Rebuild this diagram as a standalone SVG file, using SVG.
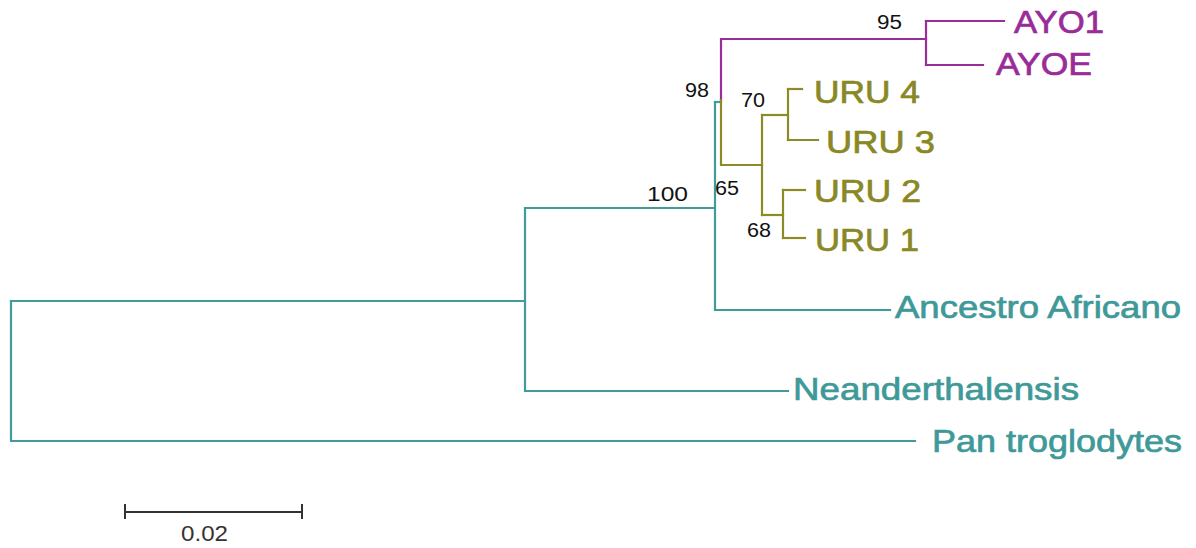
<svg xmlns="http://www.w3.org/2000/svg" width="1196" height="548" viewBox="0 0 1196 548">
  <style>
    .br { fill: none; stroke-width: 2.2; stroke-linecap: square; stroke-linejoin: miter; }
    .teal { stroke: #419b9b; }
    .purple { stroke: #9a2d9a; }
    .olive { stroke: #8d8b28; }
    .lab { font-family: "Liberation Sans", Arial, sans-serif; font-size: 32px; stroke-width: 0.7; }
    .lab.teal { fill: #3f9999; stroke: #3f9999; }
    .lab.purple { fill: #992c99; stroke: #992c99; }
    .lab.olive { fill: #8a8826; stroke: #8a8826; }
    .bs { font-family: "Liberation Sans", Arial, sans-serif; font-size: 20px; fill: #111; }
    .scale { stroke: #333; stroke-width: 2; fill: none; }
  </style>
  <rect width="1196" height="548" fill="#ffffff"/>

  <!-- branches -->
  <g id="connectors">
    <!-- outgroup and deep splits -->
    <path class="br teal" d="M11,301 V441 H915"/>
    <path class="br teal" d="M11,301 H525"/>
    <path class="br teal" d="M525,208 V391 H788"/>
    <path class="br teal" d="M525,208 H715"/>
    <path class="br teal" d="M715,102 V310 H890"/>
    <path class="br teal" d="M715,102 H721"/>
    <!-- AYO clade -->
    <path class="br purple" d="M721,100 V39 H926"/>
    <path class="br purple" d="M926,21 V65"/>
    <path class="br purple" d="M926,21 H1004"/>
    <path class="br purple" d="M926,65 H983"/>
    <!-- URU clade -->
    <path class="br olive" d="M721,100 V165 H762"/>
    <path class="br olive" d="M762,115 V215"/>
    <path class="br olive" d="M762,115 H788"/>
    <path class="br olive" d="M788,89 V140"/>
    <path class="br olive" d="M788,89 H802"/>
    <path class="br olive" d="M788,140 H818"/>
    <path class="br olive" d="M762,215 H783"/>
    <path class="br olive" d="M783,190 V238"/>
    <path class="br olive" d="M783,190 H805"/>
    <path class="br olive" d="M783,238 H805"/>
  </g>

  <!-- taxa -->
  <g id="AYO1"><text class="lab purple" x="1014" y="33" textLength="90" lengthAdjust="spacingAndGlyphs">AYO1</text></g>
  <g id="AYOE"><text class="lab purple" x="996" y="75" textLength="96" lengthAdjust="spacingAndGlyphs">AYOE</text></g>
  <g id="URU4"><text class="lab olive" x="814" y="103" textLength="106" lengthAdjust="spacingAndGlyphs">URU 4</text></g>
  <g id="URU3"><text class="lab olive" x="826" y="153" textLength="109" lengthAdjust="spacingAndGlyphs">URU 3</text></g>
  <g id="URU2"><text class="lab olive" x="814" y="202" textLength="107" lengthAdjust="spacingAndGlyphs">URU 2</text></g>
  <g id="URU1"><text class="lab olive" x="815" y="251" textLength="104" lengthAdjust="spacingAndGlyphs">URU 1</text></g>
  <g id="AncestroAfricano"><text class="lab teal" x="895" y="318" textLength="286" lengthAdjust="spacingAndGlyphs">Ancestro Africano</text></g>
  <g id="Neanderthalensis"><text class="lab teal" x="793" y="400" textLength="286" lengthAdjust="spacingAndGlyphs">Neanderthalensis</text></g>
  <g id="PanTroglodytes"><text class="lab teal" x="932" y="452" textLength="250" lengthAdjust="spacingAndGlyphs">Pan troglodytes</text></g>

  <!-- bootstrap support -->
  <g id="support">
    <text class="bs" x="877" y="29" textLength="25" lengthAdjust="spacingAndGlyphs">95</text>
    <text class="bs" x="685" y="97" textLength="24" lengthAdjust="spacingAndGlyphs">98</text>
    <text class="bs" x="741" y="107" textLength="24" lengthAdjust="spacingAndGlyphs">70</text>
    <text class="bs" x="715" y="195" textLength="24" lengthAdjust="spacingAndGlyphs">65</text>
    <text class="bs" x="747" y="237" textLength="24" lengthAdjust="spacingAndGlyphs">68</text>
    <text class="bs" x="647" y="201" textLength="41" lengthAdjust="spacingAndGlyphs" fill="#222">100</text>
  </g>

  <!-- scale bar -->
  <g id="scalebar">
    <path class="scale" d="M125,512 H302 M125,504 V519 M302,504 V519"/>
    <text x="181" y="541" font-family="'Liberation Sans', Arial, sans-serif" font-size="22" fill="#333" textLength="47" lengthAdjust="spacingAndGlyphs">0.02</text>
  </g>
</svg>
